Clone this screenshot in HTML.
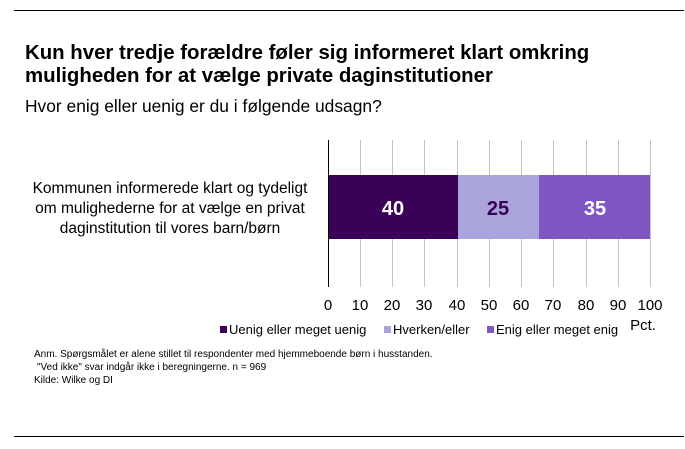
<!DOCTYPE html>
<html><head><style>
body{margin:0;width:685px;height:449px;background:#fff;font-family:"Liberation Sans",Arial,sans-serif;position:relative;overflow:hidden}
div{position:absolute}
</style></head><body>
<div style="left:14px;top:10px;width:670px;height:1px;background:#000"></div>
<div style="left:14px;top:436px;width:670px;height:1px;background:#000"></div>
<div style="left:25px;top:42px;font-size:20.4px;font-weight:bold;line-height:23px;color:#000;white-space:nowrap">Kun hver tredje forældre føler sig informeret klart omkring<br>muligheden for at vælge private daginstitutioner</div>
<div style="left:25px;top:96px;font-size:17.4px;color:#000;white-space:nowrap">Hvor enig eller uenig er du i følgende udsagn?</div>
<div style="left:20px;top:179px;width:300px;text-align:center;font-size:15.5px;line-height:20px;color:#000;white-space:nowrap">Kommunen informerede klart og tydeligt<br>om mulighederne for at vælge en privat<br>daginstitution til vores barn/børn</div>
<svg style="position:absolute;left:0;top:0" width="685" height="449">
<g stroke="#c4c4c4" stroke-width="1">
<line x1="360.5" y1="140" x2="360.5" y2="287"/><line x1="392.5" y1="140" x2="392.5" y2="287"/><line x1="424.5" y1="140" x2="424.5" y2="287"/><line x1="457.5" y1="140" x2="457.5" y2="287"/><line x1="489.5" y1="140" x2="489.5" y2="287"/><line x1="521.5" y1="140" x2="521.5" y2="287"/><line x1="553.5" y1="140" x2="553.5" y2="287"/><line x1="586.5" y1="140" x2="586.5" y2="287"/><line x1="618.5" y1="140" x2="618.5" y2="287"/><line x1="650.5" y1="140" x2="650.5" y2="287"/>
</g>
<rect x="328" y="175" width="130" height="64" fill="#3b0057"/>
<rect x="458" y="175" width="81" height="64" fill="#a9a4dc"/>
<rect x="539" y="175" width="111" height="64" fill="#7e57c2"/>
<line x1="328.5" y1="140" x2="328.5" y2="287" stroke="#000"/>
<g font-size="20" font-weight="bold" text-anchor="middle">
<text x="393" y="215" fill="#fff">40</text><text x="498" y="215" fill="#3b0057">25</text><text x="595" y="215" fill="#fff">35</text>
</g>
<g font-size="15" text-anchor="middle" fill="#000">
<text x="328" y="310">0</text><text x="360" y="310">10</text><text x="392" y="310">20</text><text x="424" y="310">30</text><text x="457" y="310">40</text><text x="489" y="310">50</text><text x="521" y="310">60</text><text x="553" y="310">70</text><text x="586" y="310">80</text><text x="618" y="310">90</text><text x="650" y="310">100</text>
<text x="643" y="330">Pct.</text>
</g>
<rect x="220" y="326" width="7" height="7" fill="#3b0057"/>
<rect x="384" y="326" width="7" height="7" fill="#a9a4dc"/>
<rect x="487" y="326" width="7" height="7" fill="#7e57c2"/>
<g font-size="13" fill="#000">
<text x="229" y="334">Uenig eller meget uenig</text><text x="393" y="334">Hverken/eller</text><text x="496" y="334">Enig eller meget enig</text>
</g>
<g font-size="10" fill="#000">
<text x="34" y="357">Anm. Spørgsmålet er alene stillet til respondenter med hjemmeboende børn i husstanden.</text>
<text x="37" y="370">"Ved ikke" svar indgår ikke i beregningerne. n = 969</text>
<text x="34" y="383">Kilde: Wilke og DI</text>
</g>
</svg>
</body></html>
